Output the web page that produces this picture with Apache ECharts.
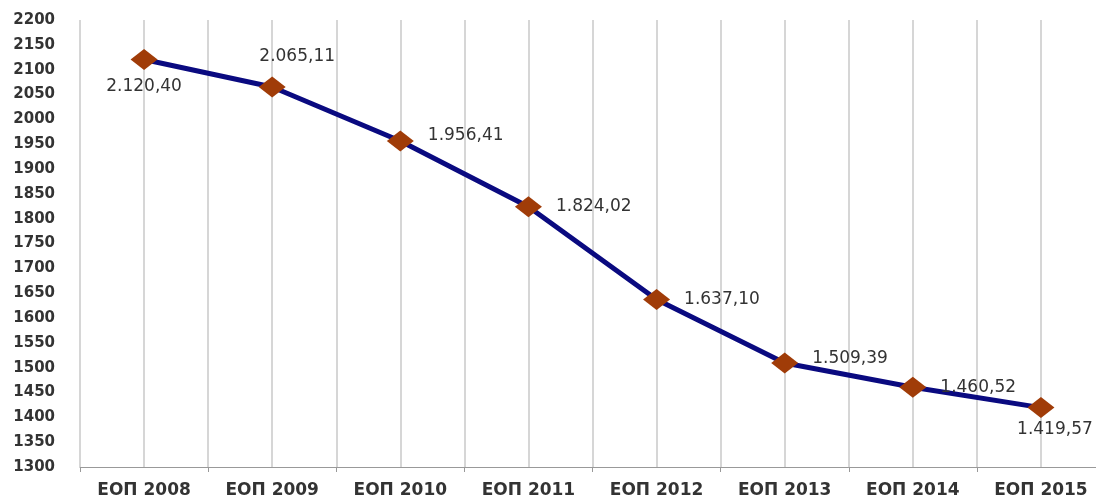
<!DOCTYPE html>
<html>
<head>
<meta charset="utf-8">
<script src="https://cdn.jsdelivr.net/npm/echarts@6/dist/echarts.min.js"></script>
<style>html,body{margin:0;padding:0;background:#fff;overflow:hidden;width:1096px;height:499px}#c{width:1105px;height:499px}</style>
</head>
<body>
<div id="c"></div>
<script>
var categories = ['ЕОП 2008','ЕОП 2009','ЕОП 2010','ЕОП 2011','ЕОП 2012','ЕОП 2013','ЕОП 2014','ЕОП 2015'];
var values = [2120.40, 2065.11, 1956.41, 1824.02, 1637.10, 1509.39, 1460.52, 1419.57];
var yMin = 1300, yMax = 2200, yStep = 50;

function fmt(v){
  var s = v.toFixed(2).split('.');
  var i = s[0].replace(/\B(?=(\d{3})+(?!\d))/g, '.');
  return i + ',' + s[1];
}
var labelPos = {
  0:{position:'bottom',distance:8},
  1:{position:'top',offset:[25,3]},
  2:{offset:[0,-5]},
  5:{offset:[0,-4]},
  7:{position:'bottom',distance:3,offset:[14,0]}
};
var data = values.map(function(v,i){
  var o = {value:v};
  if (labelPos[i]) o.label = labelPos[i];
  return o;
});
var helperCats = [];
for (var k=0;k<categories.length*2;k++) helperCats.push('');

var FONT = 'DejaVu Sans, Verdana, sans-serif';
var chart = echarts.init(document.getElementById('c'));
chart.setOption({
  animation:false,
  grid:{left:80,right:0,top:20,bottom:31,containLabel:false},
  xAxis:[{
    type:'category', data:categories, boundaryGap:true,
    axisLine:{lineStyle:{color:'#999',width:1}},
    axisTick:{show:true,length:5,lineStyle:{color:'#999'}},
    axisLabel:{color:'#333',fontFamily:FONT,fontWeight:'bold',fontSize:17,margin:15},
    splitLine:{show:false}
  },{
    type:'category', data:helperCats, boundaryGap:true, position:'bottom',
    axisLine:{show:false}, axisTick:{show:false}, axisLabel:{show:false},
    splitLine:{show:true,lineStyle:{color:'#d6d6d6',width:2}}
  }],
  yAxis:{
    type:'value', min:yMin, max:yMax, interval:yStep,
    axisLine:{show:false}, axisTick:{show:false},
    axisLabel:{color:'#333',fontFamily:FONT,fontWeight:'bold',fontSize:15,margin:25,align:'right',
      formatter:function(v){return String(v);}},
    splitLine:{show:false}
  },
  series:[{
    type:'line', data:data, xAxisIndex:0,
    lineStyle:{color:'#0a0a80',width:5},
    symbol:'diamond', symbolSize:[27,21],
    itemStyle:{color:'#a03c08'},
    label:{show:true,position:'right',distance:14,color:'#333',fontFamily:FONT,fontSize:17,
      formatter:function(p){return fmt(p.value);}},
    z:3
  }]
});
</script>
</body>
</html>
